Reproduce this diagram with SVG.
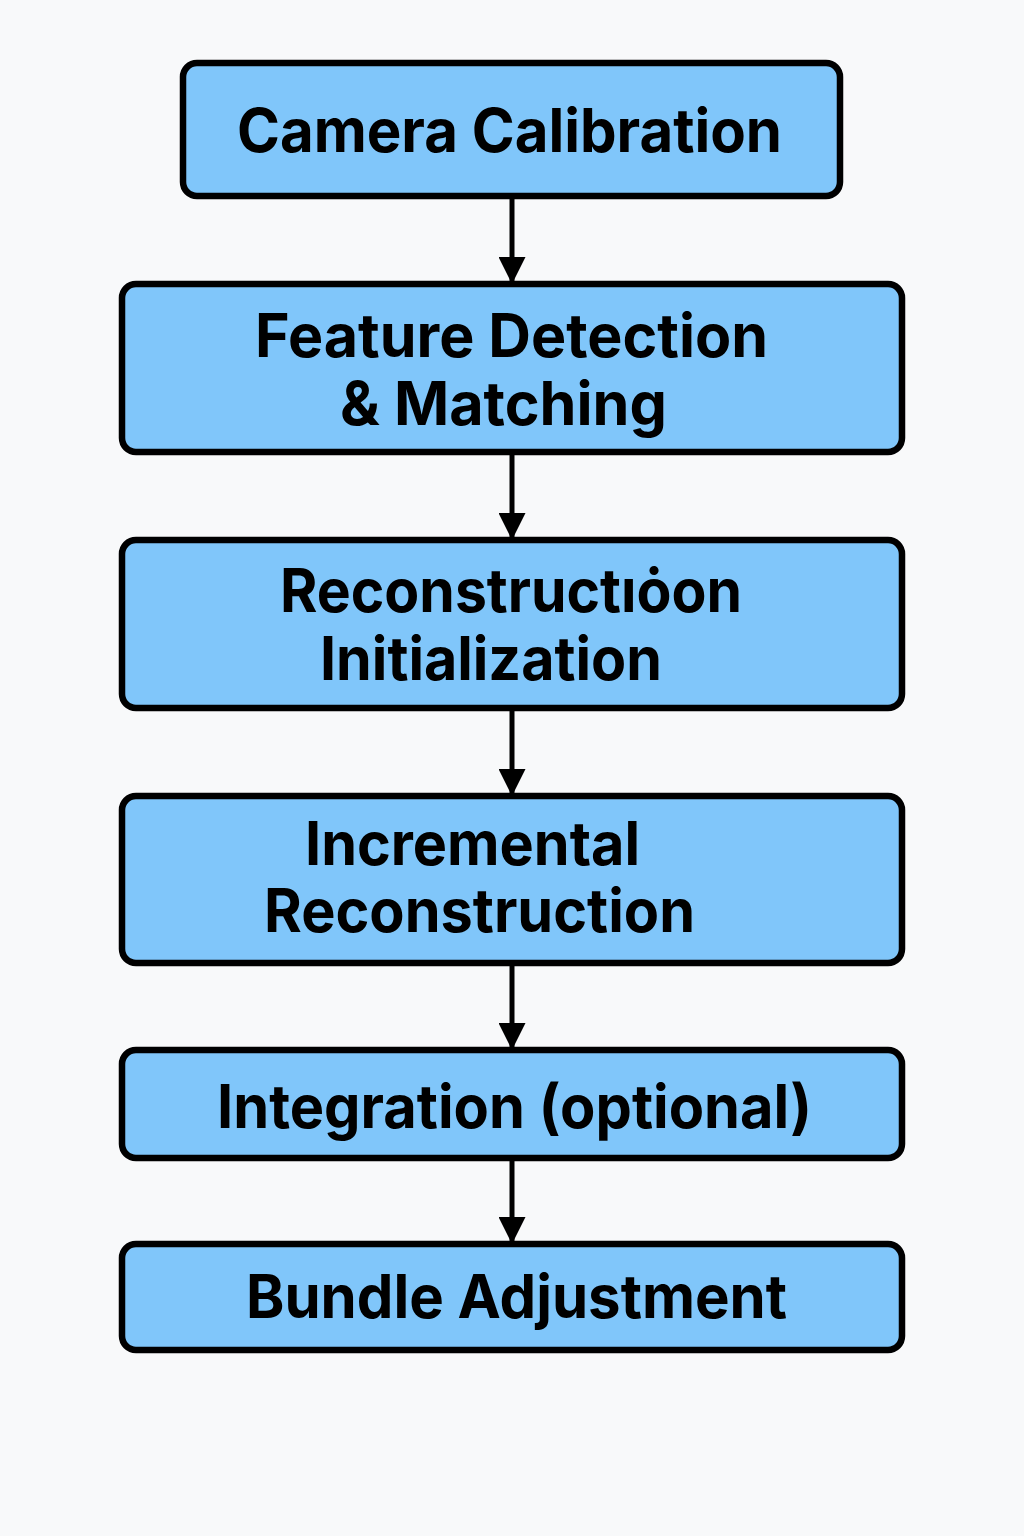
<svg xmlns="http://www.w3.org/2000/svg" width="1024" height="1536" viewBox="0 0 1024 1536">
<defs>
<style>
.box{fill:#80C6FA;stroke:#000;stroke-width:6.5}
.t{font-family:Inter,"Noto Sans","Liberation Sans",sans-serif;font-weight:700;font-size:60px;fill:#000}
.c{stroke:#000;stroke-width:5;fill:none}
</style>
<marker id="ah" markerUnits="userSpaceOnUse" markerWidth="27" markerHeight="27" refX="25" refY="13.5" orient="auto" viewBox="0 0 27 27">
<path d="M0,0 L27,13.5 L0,27 Z" fill="#000"/>
</marker>
</defs>
<rect width="1024" height="1536" fill="#F8F9FA"/>
<g id="connectors">
<line class="c" x1="512" y1="196" x2="512" y2="282" marker-end="url(#ah)"/>
<line class="c" x1="512" y1="452" x2="512" y2="538" marker-end="url(#ah)"/>
<line class="c" x1="512" y1="708" x2="512" y2="794" marker-end="url(#ah)"/>
<line class="c" x1="512" y1="963" x2="512" y2="1048" marker-end="url(#ah)"/>
<line class="c" x1="512" y1="1158" x2="512" y2="1242" marker-end="url(#ah)"/>
</g>
<g id="n1">
<rect class="box" x="183" y="63" width="657" height="133" rx="14"/>
<text class="t" x="237" y="152" textLength="545" lengthAdjust="spacingAndGlyphs">Camera Calibration</text>
</g>
<g id="n2">
<rect class="box" x="122" y="284" width="780" height="168" rx="14"/>
<text class="t" x="255" y="357" textLength="513" lengthAdjust="spacingAndGlyphs">Feature Detection</text>
<text class="t" x="340" y="425" textLength="327" lengthAdjust="spacingAndGlyphs">&amp; Matching</text>
</g>
<g id="n3">
<rect class="box" x="122" y="540" width="780" height="168" rx="14"/>
<text class="t" x="280" y="612" textLength="462" lengthAdjust="spacingAndGlyphs">Reconstructıȯon</text>
<text class="t" x="320" y="680" textLength="342" lengthAdjust="spacingAndGlyphs">Initialization</text>
</g>
<g id="n4">
<rect class="box" x="122" y="796" width="780" height="167" rx="14"/>
<text class="t" x="305" y="865" textLength="335" lengthAdjust="spacingAndGlyphs">Incremental</text>
<text class="t" x="264" y="932" textLength="431" lengthAdjust="spacingAndGlyphs">Reconstruction</text>
</g>
<g id="n5">
<rect class="box" x="122" y="1050" width="780" height="108" rx="14"/>
<text class="t" x="217" y="1128" textLength="595" lengthAdjust="spacingAndGlyphs">Integration (optional)</text>
</g>
<g id="n6">
<rect class="box" x="122" y="1244" width="780" height="106" rx="14"/>
<text class="t" x="246" y="1318" textLength="541" lengthAdjust="spacingAndGlyphs">Bundle Adjustment</text>
</g>
</svg>
